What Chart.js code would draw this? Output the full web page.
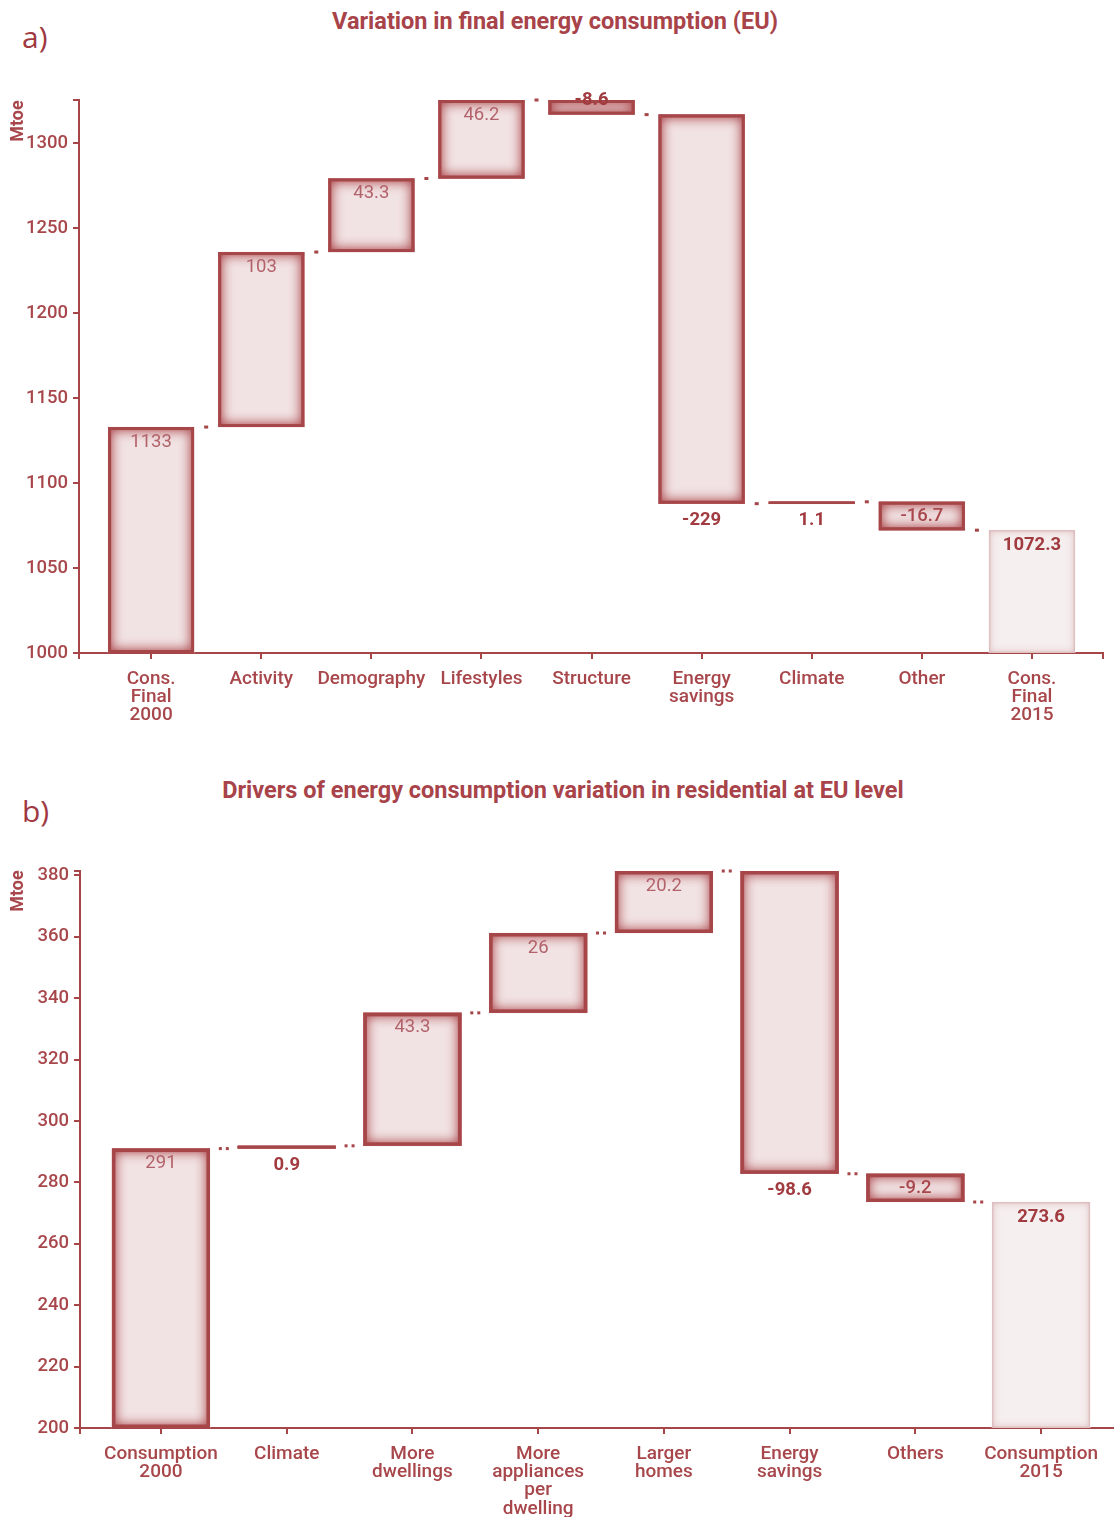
<!DOCTYPE html>
<html>
<head>
<meta charset="utf-8">
<title>Energy consumption waterfalls</title>
<script src="https://cdn.jsdelivr.net/npm/chart.js@4/dist/chart.umd.min.js"></script>
<style>
  html, body { margin: 0; padding: 0; background: #fff; overflow: hidden; }
  body { width: 1114px; height: 1517px; position: relative; font-family: Roboto, sans-serif; }
  .panel { position: absolute; left: 0; }
  .tag { position: absolute; left: 22px; font-family: "Open Sans", sans-serif; font-size: 30px; line-height: 30px; color: #a0393f; }
  .title { position: absolute; left: 0; width: 1114px; text-align: center; font-family: Roboto, sans-serif;
           font-weight: 700; font-size: 23.5px; line-height: 24px; color: #a8434a; }
</style>
</head>
<body>
<div class="tag" style="top:22px">a)</div>
<div class="title" style="top:9px;left:-2px">Variation in final energy consumption (EU)</div>
<div class="panel" style="top:0"><canvas id="chartA" width="1114" height="735"></canvas></div>

<div class="tag" style="top:796px">b)</div>
<div class="title" style="top:778px;left:6px">Drivers of energy consumption variation in residential at EU level</div>
<div class="panel" style="top:760px"><canvas id="chartB" width="1114" height="757"></canvas></div>

<script>
// ---- (a) Variation in final energy consumption (EU), Mtoe ----
const categoriesA = [["Cons.", "Final", "2000"], "Activity", "Demography", "Lifestyles", "Structure",
                     ["Energy", "savings"], "Climate", "Other", ["Cons.", "Final", "2015"]];
const valuesA = [1133, 103, 43.3, 46.2, -8.6, -229, 1.1, -16.7, 1072.3];
const yTicksA = [1000, 1050, 1100, 1150, 1200, 1250, 1300];

// ---- (b) Drivers of residential energy consumption variation, Mtoe ----
const categoriesB = [["Consumption", "2000"], "Climate", ["More", "dwellings"],
                     ["More", "appliances", "per", "dwelling"], ["Larger", "homes"],
                     ["Energy", "savings"], "Others", ["Consumption", "2015"]];
const valuesB = [291, 0.9, 43.3, 26, 20.2, -98.6, -9.2, 273.6];
const yTicksB = [200, 220, 240, 260, 280, 300, 320, 340, 360, 380];

// value label placement / weight per bar
const labelPlaceA = ['in', 'in', 'in', 'in', 'edge', 'under', 'under', 'in', 'in'];
const labelWeightA = [400, 400, 400, 400, 700, 700, 700, 500, 700];
const labelPlaceB = ['in', 'under', 'in', 'in', 'in', 'under', 'in', 'in'];
const labelWeightB = [400, 700, 400, 400, 400, 700, 500, 700];

const AXIS = '#a64649';
const TEXT = '#a8474b';

// first and last bars are totals from the baseline; the others float on the running total
function waterfall(values, base) {
  const segs = [];
  let run = 0;
  values.forEach((v, i) => {
    if (i === 0) { segs.push([base, v]); run = v; }
    else if (i === values.length - 1) { segs.push([base, v]); }
    else { const next = Math.round((run + v) * 10) / 10; segs.push([run, next]); run = next; }
  });
  return segs;
}

// draws the glowing bar frames, the dotted connectors and the value labels
const waterfallLook = {
  id: 'waterfallLook',
  afterDatasetsDraw(chart, args, opts) {
    const ctx = chart.ctx;
    const meta = chart.getDatasetMeta(0);
    const ys = chart.scales.y;
    const segs = opts.segments;
    const n = segs.length;

    meta.data.forEach((bar, i) => {
      const p = bar.getProps(['x', 'y', 'base', 'width'], true);
      const l = p.x - p.width / 2, w = p.width;
      const t = Math.min(p.y, p.base), h = Math.abs(p.base - p.y);
      const light = i === n - 1;
      const glow = light ? 'rgba(212,168,170,0.9)' : 'rgba(172,72,76,1)';

      // soft inner glow along the frame
      ctx.save();
      ctx.beginPath();
      ctx.rect(l, t, w, h);
      ctx.clip();
      ctx.shadowColor = glow;
      ctx.shadowBlur = light ? 9 : 14;
      ctx.strokeStyle = glow;
      ctx.lineWidth = 16;
      const passes = light ? 1 : 2;
      for (let k = 0; k < passes; k++) ctx.strokeRect(l - 8, t - 8, w + 16, h + 16);
      ctx.restore();

      ctx.save();
      const lw = opts.border;
      if (light) {
        ctx.strokeStyle = 'rgba(220,185,187,0.7)';
        ctx.lineWidth = 1.5;
        ctx.strokeRect(l + 0.75, t + 0.75, w - 1.5, h - 1.5);
      } else if (h > lw * 2) {
        ctx.strokeStyle = AXIS;
        ctx.lineWidth = lw;
        ctx.strokeRect(l + lw / 2, t + lw / 2, w - lw, h - lw);
      } else {
        ctx.fillStyle = AXIS;
        const hh = Math.max(h, 2.6);
        ctx.fillRect(l, t + h / 2 - hh / 2, w, hh);
      }
      ctx.restore();
    });

    // dotted connectors at the running total between neighbouring bars
    ctx.save();
    ctx.fillStyle = AXIS;
    for (let i = 0; i < n - 1; i++) {
      const a = meta.data[i], b = meta.data[i + 1];
      const cx = ((a.x + a.width / 2) + (b.x - b.width / 2)) / 2;
      const yv = ys.getPixelForValue(segs[i][1]);
      opts.dots.forEach(dx => ctx.fillRect(cx + dx, yv - 1.5, opts.dotW, 3));
    }
    ctx.restore();

    // value labels
    ctx.save();
    ctx.textAlign = 'center';
    ctx.textBaseline = 'middle';
    meta.data.forEach((bar, i) => {
      const p = bar.getProps(['x', 'y', 'base'], true);
      const t = Math.min(p.y, p.base), b = Math.max(p.y, p.base);
      const place = opts.place[i], weight = opts.weight[i];
      let ly = t + 15;
      if (place === 'under') ly = b + 17;
      if (place === 'edge') ly = t;
      ctx.font = weight + ' 18.5px Roboto';
      ctx.fillStyle = weight >= 700 ? '#a13b40' : (weight >= 500 ? '#a8474c' : '#b2626a');
      ctx.fillText(String(opts.values[i]), p.x, ly);
    });
    ctx.restore();

    // unit caption at the top of the value axis
    ctx.save();
    ctx.translate(18.5, opts.unitY);
    ctx.rotate(-Math.PI / 2);
    ctx.font = '700 18px Roboto';
    ctx.fillStyle = TEXT;
    ctx.textAlign = 'center';
    ctx.textBaseline = 'middle';
    ctx.fillText('Mtoe', 0, 0);
    ctx.restore();
  }
};

function buildChart(id, cfg) {
  const segs = waterfall(cfg.values, cfg.yTicks[0]);
  const top = Math.max(...segs.flat());
  const n = cfg.values.length;
  const fills = cfg.values.map((v, i) => i === n - 1 ? '#f6efef' : '#f1e2e3');
  const xTicks = [cfg.xMin, ...cfg.categories.map((_, i) => i)];
  if (cfg.endTick) xTicks.push(cfg.xMax);

  return new Chart(document.getElementById(id), {
    type: 'bar',
    data: {
      datasets: [{
        data: segs.map((s, i) => ({ x: i, y: s })),
        backgroundColor: fills,
        borderWidth: 0,
        barThickness: cfg.barThickness
      }]
    },
    options: {
      responsive: false,
      animation: false,
      layout: { padding: cfg.padding },
      plugins: {
        legend: { display: false },
        tooltip: { enabled: false },
        waterfallLook: {
          segments: segs, values: cfg.values, place: cfg.place, weight: cfg.weight,
          border: cfg.border, dots: cfg.dots, dotW: cfg.dotW, unitY: cfg.unitY
        }
      },
      scales: {
        x: {
          type: 'linear',
          offset: false,
          min: cfg.xMin,
          max: cfg.xMax,
          afterBuildTicks: s => { s.ticks = xTicks.map(v => ({ value: v })); },
          afterFit: s => { s.height = cfg.xHeight; },
          ticks: {
            autoSkip: false, maxRotation: 0, minRotation: 0, padding: 11,
            color: TEXT,
            font: { family: 'Roboto', size: 19, weight: '500', lineHeight: 0.96 },
            callback: v => Number.isInteger(v) && v >= 0 && v < n ? cfg.categories[v] : ''
          },
          grid: { offset: false, drawOnChartArea: false, tickLength: 6, color: AXIS, lineWidth: 2 },
          border: { color: AXIS, width: 2 }
        },
        y: {
          min: cfg.yTicks[0],
          max: top,
          afterBuildTicks: s => { s.ticks = [...cfg.yTicks, top].map(v => ({ value: v })); },
          afterFit: s => { s.width = cfg.yWidth; },
          ticks: {
            padding: 5, color: TEXT,
            font: { family: 'Roboto', size: 18.5, weight: '500' },
            callback: v => cfg.yTicks.includes(v) ? String(v) : ''
          },
          grid: { drawOnChartArea: false, tickLength: 6, color: AXIS, lineWidth: 2 },
          border: { color: AXIS, width: 2 }
        }
      }
    },
    plugins: [waterfallLook]
  });
}

buildChart('chartA', {
  categories: categoriesA, values: valuesA, yTicks: yTicksA,
  place: labelPlaceA, weight: labelWeightA,
  xMin: -0.655, xMax: 8.645, endTick: true,
  barThickness: 86, border: 3, dots: [-2], dotW: 4,
  padding: { top: 100, right: 11, left: 0, bottom: 0 },
  xHeight: 82, yWidth: 79, unitY: 121
});

buildChart('chartB', {
  categories: categoriesB, values: valuesB, yTicks: yTicksB,
  place: labelPlaceB, weight: labelWeightB,
  xMin: -0.644, xMax: 7.58, endTick: false,
  barThickness: 98, border: 3.5, dots: [-5, 2], dotW: 3,
  padding: { top: 111, right: 0, left: 0, bottom: 0 },
  xHeight: 89, yWidth: 80, unitY: 131
});
</script>
</body>
</html>
